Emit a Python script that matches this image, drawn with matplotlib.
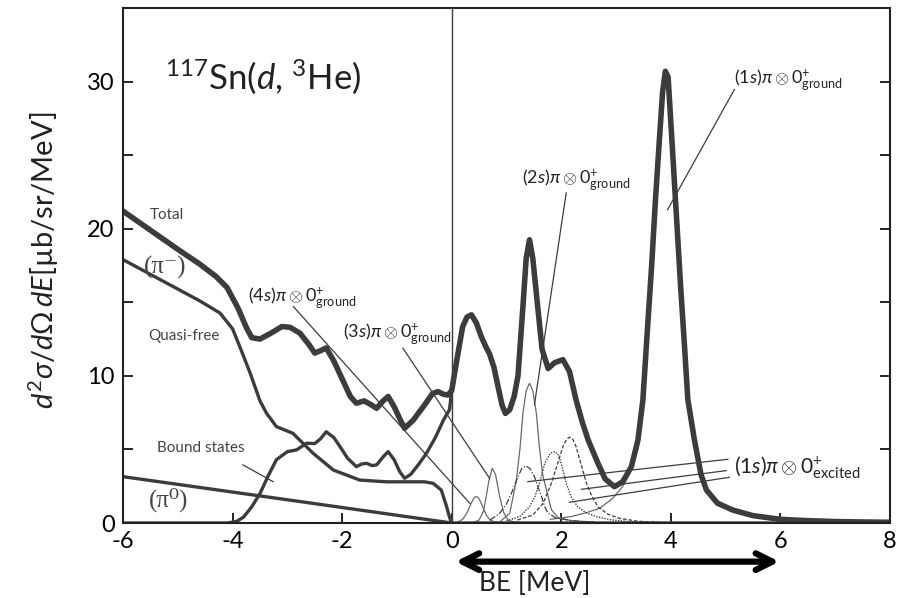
import numpy as np
import matplotlib
matplotlib.use("Agg")
import matplotlib.pyplot as plt

plt.rcParams['font.family'] = ['Lato', 'DejaVu Sans']
plt.rcParams['mathtext.fontset'] = 'custom'
plt.rcParams['mathtext.rm'] = 'Lato'
plt.rcParams['mathtext.it'] = 'Lato:italic'
plt.rcParams['mathtext.bf'] = 'Lato:bold'
plt.rcParams['axes.unicode_minus'] = False

# total spectrum (thick)
total_x = [-6.0, -5.5, -5.0, -4.6, -4.3, -4.1, -3.9, -3.75, -3.65, -3.5, -3.3, -3.1, -2.95,
           -2.77, -2.6, -2.5, -2.4, -2.29, -2.15, -2.0, -1.85, -1.74, -1.6, -1.5, -1.37,
           -1.25, -1.16, -1.05, -0.95, -0.86, -0.7, -0.5, -0.35, -0.25, -0.15, -0.07, 0.0,
           0.09, 0.2, 0.28, 0.36, 0.45, 0.54, 0.62, 0.69, 0.77, 0.85, 0.92, 0.98, 1.06,
           1.14, 1.21, 1.3, 1.36, 1.42, 1.48, 1.57, 1.65, 1.76, 1.88, 2.03, 2.15, 2.27,
           2.38, 2.49, 2.67, 2.8, 2.97, 3.12, 3.28, 3.4, 3.49, 3.57, 3.65, 3.72, 3.79,
           3.85, 3.9, 3.95, 4.02, 4.1, 4.18, 4.25, 4.31, 4.43, 4.55, 4.65, 4.85, 5.13,
           5.5, 6.0, 6.5, 7.0, 7.5, 8.0]
total_y = [21.2, 19.9, 18.6, 17.6, 16.75, 16.0, 14.6, 13.3, 12.6, 12.5, 12.9, 13.35, 13.3,
           12.9, 12.1, 11.55, 11.7, 11.9, 11.0, 9.8, 8.6, 8.14, 8.3, 8.1, 7.8,
           8.3, 8.6, 7.9, 7.1, 6.44, 7.0, 8.0, 8.8, 8.93, 8.75, 8.7, 9.0,
           11.0, 13.35, 14.0, 14.15, 13.6, 12.67, 12.0, 11.5, 10.6, 9.2, 8.0, 7.45, 7.7,
           8.6, 10.0, 14.7, 18.0, 19.25, 18.0, 14.7, 11.8, 10.5, 10.9, 11.1, 10.3, 8.37,
           6.9, 5.65, 4.06, 3.0, 2.47, 2.8, 3.83, 5.65, 8.37, 13.0, 17.5, 22.0, 26.0,
           29.3, 30.7, 30.3, 26.0, 21.0, 16.0, 12.0, 8.4, 5.65, 3.3, 2.24, 1.35, 0.88,
           0.5, 0.25, 0.16, 0.1, 0.07, 0.05]

# quasi-free (pi-)
qf_x = [-6.0, -5.5, -5.0, -4.6, -4.23, -4.0, -3.87, -3.68, -3.5, -3.38, -3.2, -2.9, -2.53,
        -2.16, -1.68, -1.4, -1.19, -0.8, -0.5, -0.34, -0.19, -0.1, -0.04, 0.0, 8.0]
qf_y = [17.9, 16.9, 15.9, 15.1, 14.27, 13.2, 12.0, 10.2, 8.3, 7.46, 6.55, 6.1, 4.74,
        3.6, 2.92, 2.85, 2.8, 2.8, 2.8, 2.7, 2.24, 1.2, 0.4, 0.0, 0.0]

# bound states
bs_x = [-6.0, -4.1, -3.93, -3.8, -3.65, -3.5, -3.35, -3.2, -3.0, -2.83, -2.65, -2.5, -2.4,
        -2.29, -2.15, -2.04, -1.9, -1.74, -1.65, -1.56, -1.45, -1.37, -1.25, -1.16, -1.05,
        -0.95, -0.86, -0.75, -0.6, -0.46, -0.3, -0.15, -0.04, 0.0]
bs_y = [0.0, 0.0, 0.1, 0.4, 1.1, 2.0, 3.2, 4.3, 4.85, 4.97, 5.42, 5.4, 5.7,
        6.2, 5.8, 5.2, 4.4, 3.83, 4.0, 4.06, 3.9, 3.95, 4.5, 4.85, 4.3,
        3.5, 3.04, 3.3, 4.0, 4.74, 5.8, 7.0, 7.7, 9.0]

# quasi-free (pi0)
pi0_x = [-6.0, -3.0, 0.0]
pi0_y = [3.15, 1.58, 0.0]

# individual states (thin)
s4_x = [0.1, 0.2, 0.28, 0.35, 0.41, 0.45, 0.5, 0.56, 0.63, 0.7, 0.8, 1.0]
s4_y = [0.05, 0.25, 0.7, 1.3, 1.72, 1.8, 1.65, 1.15, 0.55, 0.2, 0.06, 0.02]
s3_x = [0.4, 0.5, 0.58, 0.63, 0.68, 0.74, 0.8, 0.875, 0.95, 1.03, 1.15, 1.4]
s3_y = [0.05, 0.2, 0.8, 1.8, 2.9, 3.72, 3.3, 1.8, 0.7, 0.2, 0.06, 0.02]
s2_x = [0.9, 1.06, 1.18, 1.25, 1.3, 1.36, 1.42, 1.48, 1.545, 1.6, 1.66, 1.73, 1.82, 1.95, 2.2, 2.6]
s2_y = [0.15, 0.66, 2.9, 5.2, 7.46, 9.0, 9.5, 9.0, 7.46, 5.2, 3.3, 2.24, 0.9, 0.35, 0.15, 0.07]
s1_x = [1.8, 2.2, 2.5, 2.7, 2.94, 3.12, 3.25, 3.4, 3.49, 3.57, 3.65, 3.72, 3.79, 3.85, 3.9,
        3.95, 4.02, 4.1, 4.18, 4.25, 4.31, 4.43, 4.55, 4.65, 4.85, 5.13, 5.5, 6.0, 7.0, 8.0]
s1_y = [0.25, 0.45, 0.75, 1.0, 1.68, 2.47, 3.38, 5.0, 7.6, 12.0, 16.5, 21.0, 25.0, 28.3, 30.1,
        29.7, 25.2, 20.2, 15.2, 11.3, 7.8, 5.5, 3.2, 2.15, 1.28, 0.82, 0.46, 0.22, 0.09, 0.05]
exa_x = [0.7, 0.875, 1.0, 1.1, 1.21, 1.28, 1.35, 1.43, 1.51, 1.58, 1.64, 1.7, 1.76, 1.9, 2.2, 2.6]
exa_y = [0.2, 0.66, 1.3, 2.1, 3.15, 3.7, 3.88, 3.7, 3.15, 2.4, 1.8, 1.1, 0.66, 0.35, 0.15, 0.05]
exb_x = [1.0, 1.24, 1.42, 1.52, 1.6, 1.7, 1.8, 1.88, 1.94, 2.0, 2.09, 2.18, 2.3, 2.45, 2.64, 2.9, 3.25, 3.6]
exb_y = [0.15, 0.43, 1.1, 1.8, 2.7, 4.06, 4.75, 4.85, 4.7, 4.06, 2.7, 1.8, 1.1, 0.7, 0.43, 0.22, 0.09, 0.04]
exc_x = [1.2, 1.48, 1.67, 1.82, 1.93, 2.03, 2.1, 2.15, 2.21, 2.27, 2.36, 2.46, 2.56, 2.67, 2.85, 3.06, 3.4, 3.8]
exc_y = [0.2, 0.54, 1.34, 2.7, 4.0, 5.2, 5.7, 5.83, 5.7, 5.2, 4.0, 2.7, 1.8, 1.1, 0.6, 0.32, 0.12, 0.05]

dark = '#3c3c3c'
thin = '#6a6a6a'
txt = '#222222'

fig = plt.figure(figsize=(9.05, 5.98), dpi=100)
ax = fig.add_axes([0.1359, 0.1254, 0.8475, 0.8612])

ax.plot(s4_x, s4_y, color=thin, lw=0.9)
ax.plot(s3_x, s3_y, color=thin, lw=0.9)
ax.plot(s2_x, s2_y, color=thin, lw=0.9)
ax.plot(s1_x, s1_y, color=thin, lw=0.9)
ax.plot(exa_x, exa_y, color=dark, lw=0.9, ls=(0, (5, 1.5, 1, 1.5)))
ax.plot(exb_x, exb_y, color=dark, lw=1.0, ls=(0, (1, 1)))
ax.plot(exc_x, exc_y, color=dark, lw=0.9, ls=(0, (3, 1.5)))

ax.plot(pi0_x, pi0_y, color=dark, lw=2.4)
ax.plot(qf_x, qf_y, color=dark, lw=2.4)
ax.plot(bs_x, bs_y, color=dark, lw=2.4)
ax.plot(total_x, total_y, color=dark, lw=4.0, solid_joinstyle='round')

ax.axvline(0, color=dark, lw=1.0)

# leader lines
leaders = [((-3.81, 3.95), (-3.26, 2.81)),
           ((-2.89, 14.71), (0.33, 1.34)),
           ((-0.89, 11.88), (0.69, 3.04)),
           ((2.09, 22.43), (1.51, 8.03)),
           ((5.16, 29.46), (3.94, 21.29)),
           ((1.39, 2.81), (5.04, 4.33)),
           ((2.37, 2.29), (5.01, 3.56)),
           ((2.15, 1.41), (5.07, 3.11))]
for (x0, y0), (x1, y1) in leaders:
    ax.plot([x0, x1], [y0, y1], color=dark, lw=0.9)

serif = ['Liberation Serif', 'DejaVu Serif']
ax.text(-5.51, 20.95, 'Total', fontsize=11, color='#444444', va='center')
ax.text(-5.62, 17.35, '(π⁻)', fontsize=18, color='#444444', va='center', family=serif)
ax.text(-5.54, 12.7, 'Quasi-free', fontsize=11, color='#444444', va='center')
ax.text(-5.38, 5.1, 'Bound states', fontsize=11, color='#444444', va='center')
ax.text(-5.53, 1.56, '(π⁰)', fontsize=18, color='#444444', va='center', family=serif)
ax.text(-5.23, 30.3, r'$^{117}$Sn($\mathit{d}$, $^{3}$He)', fontsize=25, color=txt, va='center')

ax.text(-3.72, 15.3, r'$(4\mathit{s})\pi\otimes 0^{+}_{\mathrm{ground}}$', fontsize=13, color=txt, va='center')
ax.text(-1.99, 12.8, r'$(3\mathit{s})\pi\otimes 0^{+}_{\mathrm{ground}}$', fontsize=13, color=txt, va='center')
ax.text(1.28, 23.3, r'$(2\mathit{s})\pi\otimes 0^{+}_{\mathrm{ground}}$', fontsize=13, color=txt, va='center')
ax.text(5.16, 30.1, r'$(1\mathit{s})\pi\otimes 0^{+}_{\mathrm{ground}}$', fontsize=13, color=txt, va='center')
ax.text(5.16, 3.74, r'$(1\mathit{s})\pi\otimes 0^{+}_{\mathrm{excited}}$', fontsize=15, color=txt, va='center')

ax.set_xlim(-6, 8)
ax.set_ylim(0, 35)
ax.set_xticks([-6, -4, -2, 0, 2, 4, 6, 8])
ax.set_yticks([0, 5, 10, 15, 20, 25, 30])
ax.set_yticklabels(['0', '', '10', '', '20', '', '30'])
ax.tick_params(direction='in', length=7, width=1.2, labelsize=17, right=True, pad=6)
for sp in ax.spines.values():
    sp.set_linewidth(1.5)
    sp.set_color(txt)

fig.text(0.048, 0.565, r'$d^{2}\sigma/d\Omega\,dE$[µb/sr/MeV]', rotation=90,
         fontsize=21, ha='center', va='center', color=txt)

ax.annotate('', xy=(5.98, -0.075), xytext=(0.07, -0.075),
            xycoords=('data', 'axes fraction'), textcoords=('data', 'axes fraction'),
            arrowprops=dict(arrowstyle='<->', lw=4.5, mutation_scale=30, color='black',
                            shrinkA=0, shrinkB=0),
            annotation_clip=False)
ax.text(1.51, -0.118, 'BE [MeV]', transform=ax.get_xaxis_transform(), fontsize=19,
        ha='center', va='center', color=txt)

fig.savefig('out.png', dpi=100)
